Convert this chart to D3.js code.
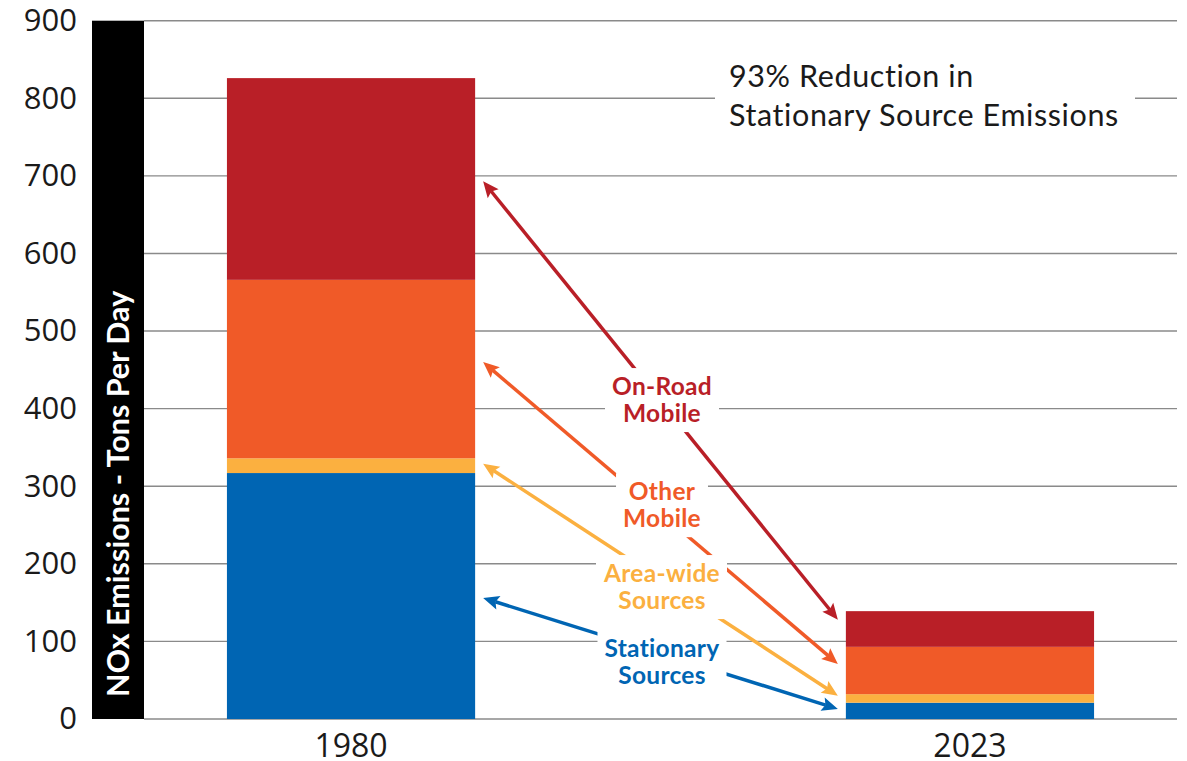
<!DOCTYPE html>
<html><head><meta charset="utf-8">
<script src="https://cdn.jsdelivr.net/npm/d3@7"></script>
<style>body{margin:0;background:#fff} svg{display:block}</style>
</head><body>
<svg id="chart" width="1187" height="761"></svg>
<script>
// ---- data ----
const categories = ["1980", "2023"];
const seriesKeys = ["stationary", "areaWide", "otherMobile", "onRoad"];
const stationary = [317, 21];
const areaWide = [19, 11];
const otherMobile = [230, 61];
const onRoad = [260, 46];
const seriesColors = ["#0065b3", "#fbb040", "#f05a28", "#b91f27"];
const yTicks = [0, 100, 200, 300, 400, 500, 600, 700, 800, 900];
const labelLines = [["Stationary", "Sources"], ["Area-wide", "Sources"], ["Other", "Mobile"], ["On-Road", "Mobile"]];
const arrowAt1980 = [156, 329, 460, 693];   // value the arrow points to on the 1980 bar
const arrowAt2023 = [13, 30, 71, 128];      // value the arrow points to on the 2023 bar
const labelAnchor = [80, 176.5, 282, 417.5]; // first-line baseline, in data units
const titleLines = ["93% Reduction in", "Stationary Source Emissions"];
const yAxisTitle = "NOx Emissions - Tons Per Day";

// ---- build ----
const table = categories.map((c, i) => ({
  cat: c, stationary: stationary[i], areaWide: areaWide[i], otherMobile: otherMobile[i], onRoad: onRoad[i]
}));
const stacked = d3.stack().keys(seriesKeys)(table);

const svg = d3.select("#chart");
const plotLeft = 144, plotRight = 1177;
const y = d3.scaleLinear().domain([0, 900]).range([719, 20.7]);
const x = d3.scaleBand().domain(categories).range([plotLeft, plotRight]).paddingInner(0.599).paddingOuter(0.134);
const color = d3.scaleOrdinal().domain(seriesKeys).range(seriesColors);

// gridlines
svg.append("g").selectAll("line").data(yTicks).join("line")
  .attr("x1", plotLeft).attr("x2", plotRight)
  .attr("y1", d => y(d)).attr("y2", d => y(d))
  .attr("stroke", "#8a8a8a").attr("stroke-width", 1.4);

// black band with axis title
svg.append("rect").attr("x", 92).attr("width", plotLeft - 92)
  .attr("y", y(900)).attr("height", y(0) - y(900)).attr("fill", "#000");
svg.append("text")
  .attr("transform", `translate(129,${(y(0) + y(900)) / 2 + 124}) rotate(-90)`)
  .attr("text-anchor", "middle")
  .attr("font-family", "Lato, sans-serif").attr("font-weight", 700).attr("font-size", 30.5)
  .attr("fill", "#fff").text(yAxisTitle);

// bars
svg.append("g").selectAll("g").data(stacked).join("g")
  .attr("fill", d => color(d.key))
  .selectAll("rect").data(d => d).join("rect")
  .attr("x", d => x(d.data.cat)).attr("width", x.bandwidth())
  .attr("y", d => y(d[1])).attr("height", d => y(d[0]) - y(d[1]));

// y tick labels
const yAxis = svg.append("g").attr("transform", "translate(77,0)")
  .call(d3.axisLeft(y).tickValues(yTicks).tickSize(0).tickPadding(0));
yAxis.select(".domain").remove();
yAxis.selectAll("text").attr("font-family", "'Open Sans', sans-serif").attr("font-size", 31).attr("fill", "#1a1a1a");

// x labels
const xAxis = svg.append("g").attr("transform", `translate(0,${y(0)})`)
  .call(d3.axisBottom(x).tickSize(0).tickPadding(15));
xAxis.select(".domain").remove();
xAxis.selectAll("text").attr("font-family", "'Open Sans', sans-serif").attr("font-size", 32).attr("fill", "#1a1a1a");

// arrows
const leftTipX = x("1980") + x.bandwidth() + 8;
const rightTipX = x("2023") - 8;
const headLen = 16, headW = 14;
const arrowG = svg.append("g");
seriesKeys.forEach((k, i) => {
  const x1 = leftTipX, y1 = y(arrowAt1980[i]);
  const x2 = rightTipX, y2 = y(arrowAt2023[i]);
  const dx = x2 - x1, dy = y2 - y1, L = Math.hypot(dx, dy);
  const ux = dx / L, uy = dy / L, px = -uy, py = ux;
  arrowG.append("line")
    .attr("x1", x1 + ux * headLen * 0.8).attr("y1", y1 + uy * headLen * 0.8)
    .attr("x2", x2 - ux * headLen * 0.8).attr("y2", y2 - uy * headLen * 0.8)
    .attr("stroke", seriesColors[i]).attr("stroke-width", 3.5);
  const head = (tx, ty, sx, sy) => {
    const bx = tx + sx * headLen, by = ty + sy * headLen;
    return [[tx, ty], [bx + px * headW / 2, by + py * headW / 2], [bx - sx * 3, by - sy * 3], [bx - px * headW / 2, by - py * headW / 2]];
  };
  arrowG.append("polygon").attr("points", head(x1, y1, ux, uy).join(" ")).attr("fill", seriesColors[i]);
  arrowG.append("polygon").attr("points", head(x2, y2, -ux, -uy).join(" ")).attr("fill", seriesColors[i]);
});

// labels
const labelX = (x("1980") + x.bandwidth() + x("2023")) / 2 + 1.5;
seriesKeys.forEach((k, i) => {
  const g = svg.append("g");
  const rect = g.append("rect").attr("fill", "#fff");
  const b1 = y(labelAnchor[i]);
  const t = g.append("text").attr("text-anchor", "middle")
    .attr("font-family", "Lato, sans-serif").attr("font-weight", 700).attr("font-size", 24.5)
    .attr("letter-spacing", 0.3)
    .attr("fill", seriesColors[i]);
  labelLines[i].forEach((ln, j) => t.append("tspan").attr("x", labelX).attr("y", b1 + j * 27).text(ln));
  const bb = t.node().getBBox();
  rect.attr("x", bb.x - 7).attr("width", bb.width + 14)
    .attr("y", b1 - 27).attr("height", 27 + 27 + 10);
});

// title annotation
const tg = svg.append("g");
tg.append("rect").attr("x", 715).attr("width", 420).attr("y", 55).attr("height", 85).attr("fill", "#fff");
const tt = tg.append("text").attr("font-family", "Lato, sans-serif").attr("font-size", 30.5)
  .attr("letter-spacing", 0.6).attr("fill", "#1a1a1a");
titleLines.forEach((ln, j) => tt.append("tspan").attr("x", 729).attr("y", 87 + j * 39).text(ln));
</script>
</body></html>
